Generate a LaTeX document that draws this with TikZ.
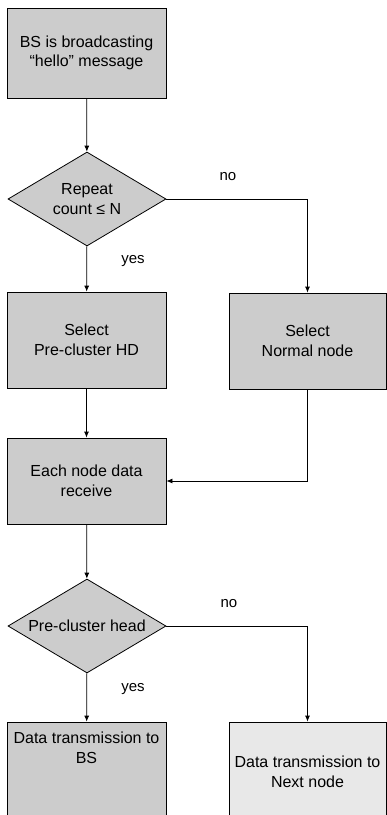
\documentclass[tikz,border=0pt]{standalone}
\usepackage{fontspec}
\setmainfont{Liberation Sans}
\usetikzlibrary{shapes.geometric,arrows.meta}
\begin{document}
\begin{tikzpicture}[x=1pt,y=-1pt,
  every node/.style={font=\fontsize{16}{19.5}\selectfont},
  procbox/.style={draw=black, line width=0.8pt, fill=gray!40, rectangle, minimum width=159pt, inner sep=0pt, align=center},
  lightbox/.style={procbox, fill=gray!18},
  decision/.style={draw=black, line width=0.8pt, fill=gray!40, diamond, aspect=1.68, inner sep=0pt, minimum width=158pt, minimum height=94pt, align=center},
  flow/.style={draw=black, line width=0.8pt, -{Latex[length=6pt,width=5pt]}},
  lbl/.style={font=\fontsize{15}{18}\selectfont}]
\useasboundingbox (0,0) rectangle (387,815);
\node[procbox, minimum height=90pt] (b1) at (86.5,53) {BS is broadcasting\\``hello'' message};
\node[decision] (d1) at (87,199) {Repeat\\count ≤ N};
\node[procbox, minimum height=96pt] (b2) at (86.5,340) {Select\\Pre-cluster HD};
\node[procbox, minimum width=157pt, minimum height=96pt] (b3) at (307.5,341) {Select\\Normal node};
\node[procbox, minimum height=86pt] (b4) at (86.5,481) {Each node data\\receive};
\node[decision] (d2) at (87,626) {Pre-cluster head};
\node[procbox, minimum height=110pt] (b5) at (86.5,777) {};
\node[align=center] (t5) at (86.5,748) {Data transmission to\\BS};
\node[lightbox, minimum width=157pt, minimum height=110pt] (b6) at (307.5,777) {};
\node[align=center] (t6) at (307.5,772) {Data transmission to\\Next node};
\node[lbl] (no1) at (228,177) {no};
\node[lbl] (yes1) at (133,261) {yes};
\node[lbl] (no2) at (229,604) {no};
\node[lbl] (yes2) at (133,689) {yes};
\draw[flow] (b1) -- (d1);
\draw[flow] (d1) -- (b2);
\draw[flow] (d1.east) -| (b3.north);
\draw[flow] (b2) -- (b4);
\draw[flow] (b3.south) |- (b4.east);
\draw[flow] (b4) -- (d2);
\draw[flow] (d2) -- (b5);
\draw[flow] (d2.east) -| (b6.north);
\end{tikzpicture}
\end{document}
